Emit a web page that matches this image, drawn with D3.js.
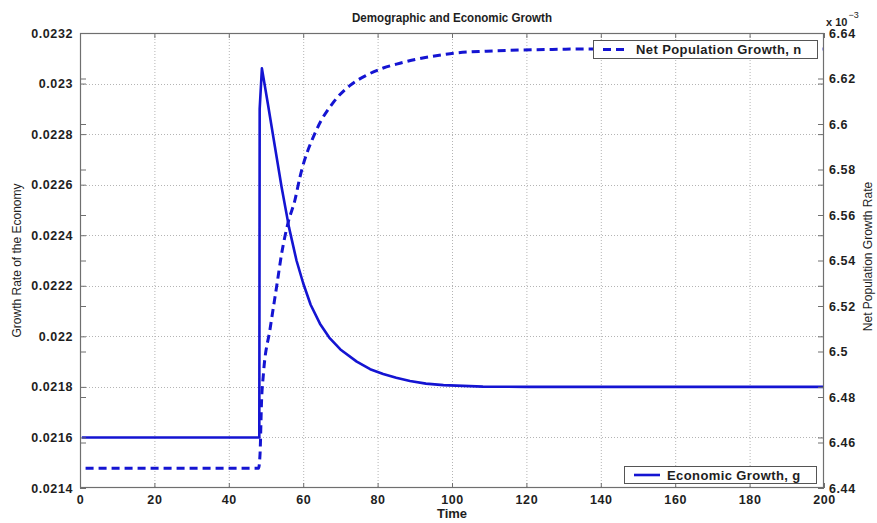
<!DOCTYPE html>
<html>
<head>
<meta charset="utf-8">
<script src="https://cdn.jsdelivr.net/npm/d3@7"></script>
<style>
  html, body { margin: 0; padding: 0; background: #fff; }
  svg { display: block; font-family: "Liberation Sans", Arial, Helvetica, sans-serif; }
</style>
</head>
<body>
<svg id="chart" width="877" height="523"></svg>
<script>
// Economic growth g (left axis)
const timeG = [0.5, 48.2, 48.3, 48.9, 50.5, 52.4, 54.2, 56.2, 58.2, 60.0, 62.0, 64.5, 67.0, 70.0, 74.4, 78.0, 81.5, 85.0, 88.7, 93.0, 97.7, 108.3, 120, 200];
const growthG = [0.02160, 0.02160, 0.02290, 0.02306, 0.02292, 0.02275, 0.02259, 0.02243, 0.02230, 0.02221, 0.022125, 0.02205, 0.021995, 0.021948, 0.021900, 0.021870, 0.021851, 0.021836, 0.021823, 0.021813, 0.021807, 0.021801, 0.02180, 0.02180];

// Net population growth n, in units of 1e-3 (right axis)
const timeN = [1.5, 48, 48.4, 48.8, 49.3, 51.1, 52.9, 54.2, 56.0, 57.8, 59.1, 63.6, 68.1, 72.6, 77.1, 81.5, 86.0, 90.5, 97.7, 100.4, 109.3, 118.3, 127, 140, 200];
const popN = [6.4487, 6.4487, 6.455, 6.478, 6.490, 6.510, 6.529, 6.543, 6.557, 6.5667, 6.5765, 6.5975, 6.6095, 6.6170, 6.6215, 6.6246, 6.6267, 6.6285, 6.6305, 6.6311, 6.6320, 6.6325, 6.6328, 6.633, 6.633];

const xTicks = [0, 20, 40, 60, 80, 100, 120, 140, 160, 180, 200];
const leftTicks = [0.0214, 0.0216, 0.0218, 0.0220, 0.0222, 0.0224, 0.0226, 0.0228, 0.0230, 0.0232];
const rightTicks = [6.44, 6.46, 6.48, 6.50, 6.52, 6.54, 6.56, 6.58, 6.60, 6.62, 6.64];

const chartTitle = "Demographic and Economic Growth";
const xLabel = "Time";
const leftLabel = "Growth Rate of the Economy";
const rightLabel = "Net Population Growth Rate";
const legendN = "Net Population Growth, n";
const legendG = "Economic Growth, g";

const L = 80, R = 824, T = 33, B = 488;
const lineColor = "#1414d2";
const axisColor = "#6f6f6f";
const textColor = "#1e1e1e";

const svg = d3.select("#chart");

const x = d3.scaleLinear().domain([0, 200]).range([L, R]);
const yL = d3.scaleLinear().domain([0.0214, 0.0232]).range([B, T]);
const yR = d3.scaleLinear().domain([6.44, 6.64]).range([B, T]);

const trim = (v, d) => v.toFixed(d).replace(/0+$/, "").replace(/\.$/, "");

// dotted grid
const grid = svg.append("g").attr("stroke", "#b4b4b4").attr("stroke-width", 1)
  .attr("stroke-dasharray", "1,2");
grid.selectAll(".gx").data(xTicks.slice(1, -1)).join("line")
  .attr("x1", d => x(d) + 0.5).attr("x2", d => x(d) + 0.5)
  .attr("y1", T).attr("y2", B);
grid.selectAll(".gy").data(leftTicks.slice(1, -1)).join("line")
  .attr("x1", L).attr("x2", R)
  .attr("y1", d => Math.round(yL(d)) + 0.5).attr("y2", d => Math.round(yL(d)) + 0.5);

// series lines
const lineG = d3.line().x((d, i) => x(timeG[i])).y(d => yL(d)).curve(d3.curveLinear);
const lineN = d3.line().x((d, i) => x(timeN[i])).y(d => yR(d)).curve(d3.curveMonotoneX);

svg.append("path").attr("d", lineN(popN))
  .attr("fill", "none").attr("stroke", lineColor).attr("stroke-width", 3)
  .attr("stroke-dasharray", "8,5");
svg.append("path").attr("d", lineG(growthG))
  .attr("fill", "none").attr("stroke", lineColor).attr("stroke-width", 2.6)
  .attr("stroke-linejoin", "round");

// axes (ticks point inward)
function styleAxis(g) {
  g.select(".domain").remove();
  g.selectAll(".tick line").attr("stroke", axisColor);
  g.selectAll(".tick text").attr("fill", textColor)
    .style("font-size", "12.5px").style("font-weight", "bold").style("letter-spacing", "0.6px");
}

svg.append("g").attr("transform", `translate(0,${B})`)
  .call(d3.axisBottom(x).tickValues(xTicks).tickSize(-5).tickPadding(7).tickFormat(d3.format("d")))
  .call(styleAxis);
svg.append("g").attr("transform", `translate(0,${T})`)
  .call(d3.axisTop(x).tickValues(xTicks).tickSize(-5).tickFormat(""))
  .call(styleAxis);

svg.append("g").attr("transform", `translate(${L},0)`)
  .call(d3.axisLeft(yL).tickValues(leftTicks).tickSize(-6).tickPadding(7).tickFormat(d => trim(d, 4)))
  .call(styleAxis);
svg.append("g").attr("transform", `translate(${R},0)`)
  .call(d3.axisRight(yL).tickValues(leftTicks).tickSize(-6).tickFormat(""))
  .call(styleAxis);

svg.append("g").attr("transform", `translate(${R},0)`)
  .call(d3.axisRight(yR).tickValues(rightTicks).tickSize(-6).tickPadding(5).tickFormat(d => trim(d, 2)))
  .call(styleAxis);
svg.append("g").attr("transform", `translate(${L},0)`)
  .call(d3.axisLeft(yR).tickValues(rightTicks).tickSize(-6).tickFormat(""))
  .call(styleAxis);

// plot frame
svg.append("rect").attr("x", L + 0.5).attr("y", T + 0.5)
  .attr("width", R - L - 1).attr("height", B - T - 1)
  .attr("fill", "none").attr("stroke", axisColor).attr("stroke-width", 1.2);

// exponent marker for the right axis
const expo = svg.append("text").attr("x", R + 2).attr("y", 26).attr("fill", textColor)
  .style("font-size", "11px").style("font-weight", "bold");
expo.append("tspan").text("x 10");
expo.append("tspan").attr("dy", -8).attr("dx", 1).style("font-size", "9px").style("font-weight", "normal").text("\u22123");

// titles and axis labels
svg.append("text").attr("x", (L + R) / 2).attr("y", 22).attr("text-anchor", "middle")
  .attr("fill", textColor).style("font-size", "12.5px").style("font-weight", "bold")
  .attr("textLength", 200).attr("lengthAdjust", "spacingAndGlyphs").text(chartTitle);
svg.append("text").attr("x", (L + R) / 2).attr("y", 518).attr("text-anchor", "middle")
  .attr("fill", textColor).style("font-size", "13px").style("font-weight", "bold").text(xLabel);
svg.append("text").attr("transform", `translate(21,${(T + B) / 2}) rotate(-90)`)
  .attr("text-anchor", "middle").attr("fill", textColor).style("font-size", "12px")
  .text(leftLabel);
svg.append("text").attr("transform", `translate(872,${(T + B) / 2 - 4}) rotate(-90)`)
  .attr("text-anchor", "middle").attr("fill", textColor).style("font-size", "12px")
  .text(rightLabel);

// legends
function legend(x0, y0, w, h, dashed, label) {
  const g = svg.append("g");
  g.append("rect").attr("x", x0 + 0.5).attr("y", y0 + 0.5).attr("width", w).attr("height", h)
    .attr("fill", "#fff").attr("stroke", "#555").attr("stroke-width", 1);
  g.append("line").attr("x1", x0 + 10).attr("x2", x0 + 36)
    .attr("y1", y0 + h / 2 + 0.5).attr("y2", y0 + h / 2 + 0.5)
    .attr("stroke", lineColor).attr("stroke-width", dashed ? 3 : 2.6)
    .attr("stroke-dasharray", dashed ? "8,5" : null);
  g.append("text").attr("x", x0 + 43).attr("y", y0 + h / 2 + 5)
    .attr("fill", textColor).style("font-size", "13px").style("font-weight", "bold")
    .style("letter-spacing", "0.4px").text(label);
}
legend(593, 40, 224, 18, true, legendN);
legend(624, 466, 192, 17, false, legendG);
</script>
</body>
</html>
